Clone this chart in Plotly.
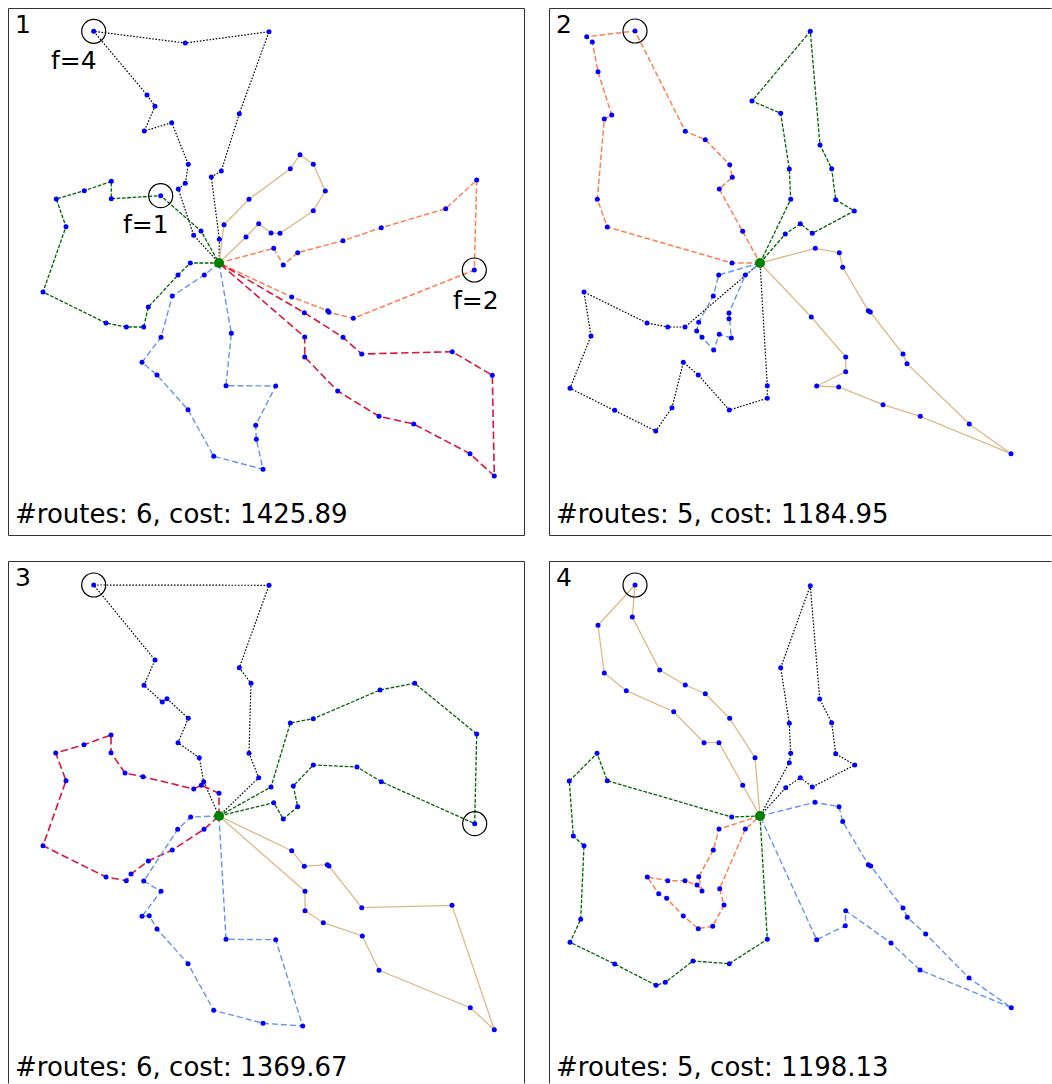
import plotly.graph_objects as go

# ---------------------------------------------------------------------------
# Route solutions for four runs. Coordinates are map units (x right, y down),
# each route is the ordered list of customers visited between two depot stops.
# ---------------------------------------------------------------------------
DEPOT = (211.0, 255.0)

# run 1
P1_BLACK = [(211.3, 231.3), (203.3, 169.0), (213.3, 163.0), (231.3, 105.7), (261.0, 23.7),
            (177.3, 35.0), (85.7, 23.3), (139.0, 87.0), (147.0, 98.3), (136.3, 123.0),
            (163.7, 114.7), (180.3, 156.3), (177.3, 175.3), (170.3, 181.0), (185.7, 227.3)]
P1_GREEN = [(182.3, 255.0), (170.0, 267.0), (140.3, 299.0), (135.7, 319.0), (118.3, 319.0),
            (98.0, 315.0), (35.0, 284.0), (58.0, 218.7), (48.3, 191.0), (76.3, 182.7),
            (103.3, 173.3), (103.3, 190.7), (152.7, 187.7), (193.0, 223.0)]
P1_BLUE = [(196.3, 267.0), (164.3, 288.0), (153.0, 329.3), (134.0, 354.3), (149.0, 367.0),
           (180.0, 401.7), (205.7, 448.3), (255.0, 461.3), (248.3, 431.3), (247.7, 417.3),
           (267.7, 378.0), (218.0, 377.7), (223.3, 325.3)]
P1_TAN = [(216.0, 216.7), (241.0, 191.3), (282.3, 160.7), (292.0, 146.7), (305.3, 156.3),
          (317.3, 183.0), (305.3, 202.7), (272.0, 225.3), (263.0, 225.0), (250.7, 215.7),
          (238.0, 229.0)]
P1_ORANGE = [(265.7, 240.3), (275.3, 257.0), (289.7, 244.7), (335.0, 232.7), (373.3, 219.7),
             (437.7, 200.7), (468.7, 172.0), (466.3, 262.0), (345.3, 310.3), (321.0, 304.3),
             (319.7, 302.7), (283.7, 289.0)]
P1_RED = [(296.3, 304.7), (335.0, 329.3), (353.7, 346.0), (444.3, 343.7), (484.3, 367.3),
          (486.3, 468.0), (462.0, 445.7), (405.7, 416.0), (371.0, 408.3), (329.7, 383.0),
          (296.7, 349.0), (296.7, 329.0)]
P1_FLAGGED = [(85.7, 23.3), (152.7, 187.7), (466.3, 262.0)]
P1_FLAG_TEXT = ["f=4", "f=1", "f=2"]
P1_FLAG_TEXT_POS = [(66.0, 52.0), (138.0, 216.0), (467.5, 292.0)]

# run 2
P2_ORANGE = [(183.0, 255.0), (58.3, 219.0), (48.3, 191.3), (55.3, 111.0), (62.7, 107.0),
             (49.0, 63.7), (43.3, 34.0), (37.7, 28.7), (86.0, 23.0), (136.3, 123.3),
             (156.3, 131.7), (180.7, 156.7), (183.3, 169.3), (170.3, 181.0), (193.7, 223.3)]
P2_GREEN = [(236.3, 226.0), (251.3, 215.7), (263.3, 225.3), (305.3, 203.0), (286.7, 191.7),
            (282.7, 160.7), (271.0, 137.0), (261.3, 23.3), (203.0, 93.0), (231.7, 105.3),
            (240.3, 161.0), (241.7, 191.3)]
P2_BLACK = [(136.0, 319.0), (118.7, 319.0), (98.0, 315.0), (35.0, 284.0), (42.0, 328.0),
            (21.0, 380.3), (65.7, 402.3), (106.7, 423.0), (123.0, 399.7), (134.3, 354.3),
            (149.3, 367.0), (180.3, 402.0), (218.3, 390.3), (218.3, 377.7)]
P2_BLUE = [(169.7, 267.0), (164.3, 288.0), (149.7, 314.3), (147.7, 323.0), (153.0, 329.3),
           (164.7, 342.0), (170.3, 326.3), (182.3, 330.0), (180.0, 310.7), (180.0, 305.0),
           (196.3, 267.0)]
P2_TAN = [(266.3, 240.3), (290.3, 244.7), (293.7, 259.3), (319.3, 302.7), (321.3, 304.0),
          (354.0, 346.0), (358.0, 355.7), (420.3, 416.0), (462.0, 445.7), (371.3, 408.3),
          (334.0, 396.7), (289.7, 379.0), (267.7, 378.0), (296.7, 363.7), (296.7, 349.0),
          (262.3, 309.0)]
P2_FLAGGED = [(86.0, 23.0)]

# run 3
P3_BLACK = [(250.7, 216.7), (241.0, 192.3), (243.0, 122.3), (231.3, 106.7), (261.0, 24.3),
            (85.7, 24.0), (147.0, 99.0), (136.0, 124.3), (154.3, 141.0), (159.0, 137.7),
            (180.3, 157.3), (170.0, 181.7), (191.3, 196.7), (195.7, 220.7)]
P3_RED = [(211.0, 232.3), (193.3, 224.3), (185.7, 228.0), (135.0, 215.7), (117.0, 212.0),
          (103.0, 191.7), (103.0, 174.0), (76.0, 183.7), (47.7, 192.0), (58.0, 219.7),
          (35.0, 284.7), (98.0, 316.0), (118.3, 319.7), (123.0, 313.0), (140.3, 300.0),
          (164.3, 289.0), (196.0, 268.3)]
P3_GREEN = [(263.0, 226.0), (282.3, 162.0), (305.3, 157.7), (372.0, 129.0), (406.7, 122.3),
            (468.7, 173.0), (466.7, 262.7), (373.3, 220.7), (349.0, 206.0), (305.3, 204.0),
            (285.3, 225.0), (289.7, 245.7), (275.3, 258.0), (265.7, 241.7)]
P3_BLUE = [(182.7, 256.0), (169.7, 268.3), (135.7, 320.0), (153.0, 330.3), (134.0, 355.3),
           (141.3, 354.7), (149.0, 368.0), (180.0, 402.7), (205.7, 449.3), (255.0, 462.3),
           (294.7, 465.0), (267.7, 378.7), (218.0, 378.3)]
P3_TAN = [(283.7, 289.7), (296.3, 305.3), (319.3, 303.7), (321.0, 305.0), (353.7, 346.7),
          (444.0, 344.3), (486.3, 468.7), (462.3, 446.7), (371.0, 409.3), (354.3, 375.0),
          (315.3, 361.7), (297.0, 349.7), (297.0, 330.3)]
P3_FLAGGED = [(85.7, 24.0), (466.7, 262.7)]

# run 4
P4_TAN = [(193.7, 224.3), (170.0, 181.7), (155.0, 181.7), (124.7, 150.7), (77.3, 129.7),
          (55.3, 112.0), (49.0, 64.3), (86.0, 24.0), (83.3, 56.0), (110.7, 109.0),
          (136.3, 124.0), (156.3, 132.7), (180.7, 157.3), (206.0, 196.7)]
P4_BLACK = [(240.3, 201.7), (241.7, 192.3), (240.3, 162.3), (231.7, 106.7), (261.3, 24.7),
            (270.7, 138.0), (282.7, 161.7), (286.7, 192.7), (305.7, 204.0), (263.3, 226.0),
            (251.3, 216.7), (236.7, 226.7)]
P4_GREEN = [(182.7, 256.0), (58.3, 219.7), (48.0, 192.3), (20.3, 220.0), (24.3, 275.0),
            (35.0, 284.7), (31.7, 358.3), (21.0, 381.3), (65.7, 403.0), (107.0, 424.3),
            (116.3, 421.3), (144.0, 400.0), (180.3, 402.7), (218.3, 378.3)]
P4_ORANGE = [(170.0, 268.0), (164.3, 289.0), (149.7, 315.7), (153.0, 330.0), (148.0, 324.0),
             (136.0, 319.7), (118.7, 319.7), (98.3, 316.0), (109.7, 332.7), (117.7, 337.3),
             (134.3, 355.0), (149.3, 367.7), (163.7, 365.3), (175.0, 344.0), (170.7, 327.7),
             (196.3, 268.0)]
P4_BLUE = [(266.0, 241.3), (290.0, 245.7), (293.7, 260.5), (319.3, 303.7), (321.7, 305.0),
           (354.0, 347.0), (358.3, 356.3), (376.7, 373.0), (420.0, 417.0), (462.3, 446.7),
           (371.0, 409.0), (342.0, 382.0), (296.7, 349.7), (296.3, 364.7), (267.7, 378.7)]
P4_FLAGGED = [(86.0, 24.0)]

ROUTE_COUNTS = [6, 5, 6, 5]
COSTS = [1425.89, 1184.95, 1369.67, 1198.13]

# line style per route colour
STYLES = {
    "black": dict(color="#000000", width=1.2, dash="1.6px,1.6px"),
    "green": dict(color="#006400", width=1.3, dash="3.7px,1.6px"),
    "blue": dict(color="#6495ED", width=1.4, dash="6px,3px"),
    "tan": dict(color="#DEB887", width=1.3, dash="solid"),
    "orange": dict(color="#FF7F50", width=1.5, dash="5.5px,2.6px"),
    "red": dict(color="#DC143C", width=1.6, dash="7.5px,3.5px"),
}

PANELS = [
    dict(routes=[("black", P1_BLACK), ("green", P1_GREEN), ("blue", P1_BLUE),
                 ("tan", P1_TAN), ("orange", P1_ORANGE), ("red", P1_RED)],
         flagged=P1_FLAGGED),
    dict(routes=[("orange", P2_ORANGE), ("green", P2_GREEN), ("black", P2_BLACK),
                 ("blue", P2_BLUE), ("tan", P2_TAN)],
         flagged=P2_FLAGGED),
    dict(routes=[("black", P3_BLACK), ("red", P3_RED), ("green", P3_GREEN),
                 ("blue", P3_BLUE), ("tan", P3_TAN)],
         flagged=P3_FLAGGED),
    dict(routes=[("tan", P4_TAN), ("black", P4_BLACK), ("green", P4_GREEN),
                 ("orange", P4_ORANGE), ("blue", P4_BLUE)],
         flagged=P4_FLAGGED),
]

# page geometry (pixels)
W, H = 1052, 1084
FONT = "DejaVu Sans"
# left, top, right, bottom of each panel frame
FRAMES = [(8, 8, 525, 536), (549, 8, 1052, 536), (8, 561, 525, 1084), (549, 561, 1052, 1084)]

fig = go.Figure()
layout = dict(width=W, height=H, margin=dict(l=0, r=0, t=0, b=0), autosize=False,
              paper_bgcolor="white", plot_bgcolor="white", showlegend=False,
              font=dict(family=FONT, color="black"))
annotations = []
shapes = []

for i, (panel, frame) in enumerate(zip(PANELS, FRAMES)):
    n = i + 1
    sfx = "" if n == 1 else str(n)
    xa, ya = "x" + sfx, "y" + sfx
    l, t, r, b = frame
    layout["xaxis" + sfx] = dict(domain=[l / W, r / W], range=[0, r - l], visible=False,
                                  anchor=ya, fixedrange=True)
    layout["yaxis" + sfx] = dict(domain=[1 - b / H, 1 - t / H], range=[b - t, 0], visible=False,
                                  anchor=xa, fixedrange=True)

    # route polylines: depot -> customers -> depot
    for colour, pts in panel["routes"]:
        path = [DEPOT] + pts + [DEPOT]
        fig.add_trace(go.Scatter(x=[p[0] for p in path], y=[p[1] for p in path],
                                 mode="lines", line=STYLES[colour], hoverinfo="skip",
                                 xaxis=xa, yaxis=ya))
    # customers
    cust = [p for _, pts in panel["routes"] for p in pts]
    fig.add_trace(go.Scatter(x=[p[0] for p in cust], y=[p[1] for p in cust], mode="markers",
                             marker=dict(color="#0000FF", size=5, line=dict(width=0)),
                             hoverinfo="skip", xaxis=xa, yaxis=ya))
    # depot
    fig.add_trace(go.Scatter(x=[DEPOT[0]], y=[DEPOT[1]], mode="markers",
                             marker=dict(color="#008000", size=10, line=dict(width=0)),
                             hoverinfo="skip", xaxis=xa, yaxis=ya))
    # flagged customers
    fl = panel["flagged"]
    fig.add_trace(go.Scatter(x=[p[0] for p in fl], y=[p[1] for p in fl], mode="markers",
                             marker=dict(symbol="circle-open", size=24,
                                         color="black", line=dict(color="black", width=1.2)),
                             hoverinfo="skip", xaxis=xa, yaxis=ya))

    # panel number and summary text
    annotations.append(dict(x=4.5, y=16, xref=xa, yref=ya, text=str(n), showarrow=False,
                            xanchor="left", yanchor="middle", font=dict(size=25)))
    annotations.append(dict(x=4.5, y=506, xref=xa, yref=ya,
                            text=f"#routes: {ROUTE_COUNTS[i]}, cost: {COSTS[i]:.2f}",
                            showarrow=False, xanchor="left", yanchor="middle",
                            font=dict(size=26)))

    # frame lines (panels on the right / bottom are cut by the page edge)
    x0, x1 = (l + 0.5) / W, (r - 0.5) / W
    y0, y1 = 1 - (t + 0.5) / H, 1 - (b - 0.5) / H
    edge = dict(type="line", xref="paper", yref="paper", line=dict(color="#333333", width=1))
    shapes.append(dict(edge, x0=x0, x1=x1, y0=y0, y1=y0))  # top
    shapes.append(dict(edge, x0=x0, x1=x0, y0=y0, y1=y1))  # left
    if r < W:
        shapes.append(dict(edge, x0=x1, x1=x1, y0=y0, y1=y1))  # right
    if b < H:
        shapes.append(dict(edge, x0=x0, x1=x1, y0=y1, y1=y1))  # bottom

# failure-count labels in run 1
for (tx, ty), label in zip(P1_FLAG_TEXT_POS, P1_FLAG_TEXT):
    annotations.append(dict(x=tx, y=ty, xref="x", yref="y", text=label, showarrow=False,
                            xanchor="center", yanchor="middle", font=dict(size=25)))

layout["annotations"] = annotations
layout["shapes"] = shapes
fig.update_layout(**layout)
fig.write_html("out.html", config={"displayModeBar": False})
